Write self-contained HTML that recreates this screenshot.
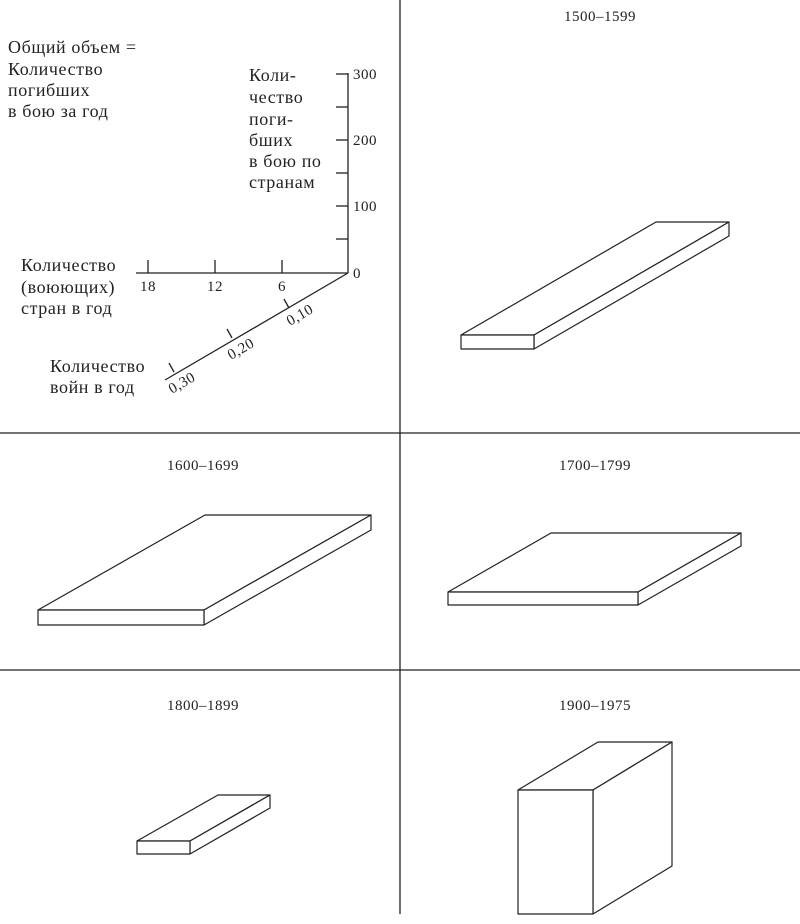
<!DOCTYPE html>
<html><head><meta charset="utf-8"><style>
body{margin:0;background:#fff}
svg text{font-family:"Liberation Serif",serif;fill:#222}
</style></head><body>
<svg width="800" height="919" viewBox="0 0 800 919" xmlns="http://www.w3.org/2000/svg">
<g stroke="#222" stroke-width="1.3" fill="none">
<line x1="400" y1="0" x2="400" y2="914"/>
<line x1="0" y1="433" x2="800" y2="433"/>
<line x1="0" y1="670" x2="800" y2="670"/>
<line x1="348" y1="73" x2="348" y2="273"/>
<line x1="336" y1="74" x2="348" y2="74"/>
<line x1="336" y1="107" x2="348" y2="107"/>
<line x1="336" y1="140" x2="348" y2="140"/>
<line x1="336" y1="173" x2="348" y2="173"/>
<line x1="336" y1="206" x2="348" y2="206"/>
<line x1="336" y1="239" x2="348" y2="239"/>
<line x1="136" y1="273" x2="348" y2="273"/>
<line x1="148" y1="260" x2="148" y2="273"/>
<line x1="215" y1="260" x2="215" y2="273"/>
<line x1="282" y1="260" x2="282" y2="273"/>
<line x1="348" y1="273" x2="165" y2="380"/>
<line x1="284" y1="299" x2="289" y2="308"/>
<line x1="227" y1="329" x2="232" y2="338"/>
<line x1="169" y1="363" x2="174" y2="372"/>
</g>
<g font-size="18" letter-spacing="0.6">
<text x="8" y="53">Общий объем =</text>
<text x="8" y="75">Количество</text>
<text x="8" y="96">погибших</text>
<text x="8" y="117">в бою за год</text>
<text x="249" y="81">Коли-</text>
<text x="249" y="103">чество</text>
<text x="249" y="125">поги-</text>
<text x="249" y="146">бших</text>
<text x="249" y="167">в бою по</text>
<text x="249" y="188">странам</text>
<text x="21" y="271">Количество</text>
<text x="21" y="293">(воюющих)</text>
<text x="21" y="314">стран в год</text>
<text x="50" y="372">Количество</text>
<text x="50" y="393">войн в год</text>
</g>
<g font-size="15" letter-spacing="0.5">
<text x="353" y="79">300</text>
<text x="353" y="145">200</text>
<text x="353" y="211">100</text>
<text x="353" y="278">0</text>
<text x="148" y="291" text-anchor="middle">18</text>
<text x="215" y="291" text-anchor="middle">12</text>
<text x="282" y="291" text-anchor="middle">6</text>
<text transform="translate(290,326) rotate(-30)">0,10</text>
<text transform="translate(231,360) rotate(-30)">0,20</text>
<text transform="translate(172,394) rotate(-30)">0,30</text>
<text x="600" y="21" text-anchor="middle">1500–1599</text>
<text x="203" y="470" text-anchor="middle">1600–1699</text>
<text x="595" y="470" text-anchor="middle">1700–1799</text>
<text x="203" y="710" text-anchor="middle">1800–1899</text>
<text x="595" y="710" text-anchor="middle">1900–1975</text>
</g>
<g stroke="#222" stroke-width="1.2" fill="#fff" stroke-linejoin="round">
<path d="M461 335 L656 222 L729 222 L534 335 Z"/>
<path d="M534 335 L729 222 L729 236 L534 349 Z"/>
<rect x="461" y="335" width="73" height="14"/>
<path d="M38 610 L205 515 L371 515 L204 610 Z"/>
<path d="M204 610 L371 515 L371 530 L204 625 Z"/>
<rect x="38" y="610" width="166" height="15"/>
<path d="M448 592 L551 533 L741 533 L638 592 Z"/>
<path d="M638 592 L741 533 L741 546 L638 605 Z"/>
<rect x="448" y="592" width="190" height="13"/>
<path d="M137 841 L218 795 L270 795 L190 841 Z"/>
<path d="M190 841 L270 795 L270 808 L190 854 Z"/>
<rect x="137" y="841" width="53" height="13"/>
<path d="M518 790 L598 742 L672 742 L593 790 Z"/>
<path d="M593 790 L672 742 L672 866 L593 914 Z"/>
<rect x="518" y="790" width="75" height="124"/>
</g>
</svg>
</body></html>
